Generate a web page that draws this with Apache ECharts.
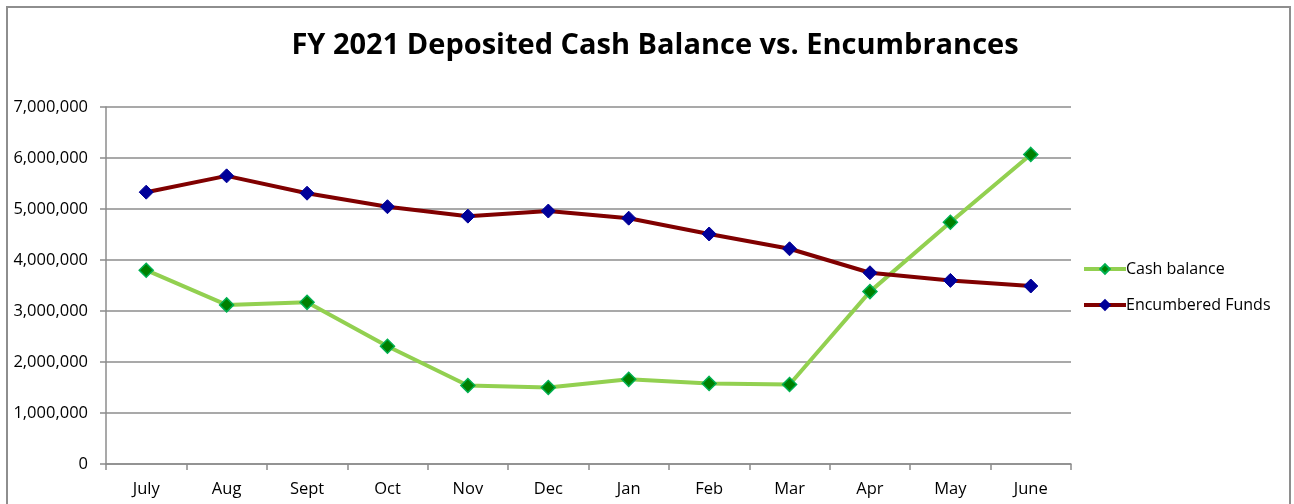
<!DOCTYPE html>
<html>
<head>
<meta charset="utf-8">
<script src="https://cdn.jsdelivr.net/npm/echarts@6/dist/echarts.min.js"></script>
<style>
  html, body { margin: 0; padding: 0; background: #fff; overflow: hidden; }
  #frame { position: absolute; left: 6px; top: 6px; width: 1285px; height: 520px;
           border: 2px solid #8e8e8e; box-sizing: border-box; }
  #chart { position: absolute; left: 0; top: 0; width: 1294px; height: 504px; }
</style>
</head>
<body>
<div id="frame"></div>
<div id="chart"></div>
<script>
// 月份（财年从七月开始）
var months = ['July', 'Aug', 'Sept', 'Oct', 'Nov', 'Dec', 'Jan', 'Feb', 'Mar', 'Apr', 'May', 'June'];
// 现金余额
var cashBalance = [3800000, 3120000, 3170000, 2310000, 1540000, 1500000, 1660000, 1580000, 1560000, 3380000, 4740000, 6070000];
// 已承诺资金
var encumberedFunds = [5330000, 5650000, 5310000, 5045000, 4860000, 4960000, 4820000, 4510000, 4220000, 3750000, 3600000, 3490000];
// y轴刻度
var yTicks = [0, 1000000, 2000000, 3000000, 4000000, 5000000, 6000000, 7000000];

var font = '"Open Sans", "Noto Sans", sans-serif';

var myChart = echarts.init(document.getElementById('chart'));
var option = {
  animation: false,
  title: {
    text: 'FY 2021 Deposited Cash Balance vs. Encumbrances',
    left: 650,
    textAlign: 'center',
    top: 26,
    textStyle: { fontFamily: font, fontSize: 29, fontWeight: 'bold', color: '#000' }
  },
  legend: {
    orient: 'vertical',
    left: 1077,
    top: 253,
    itemWidth: 42,
    itemHeight: 12,
    itemGap: 14,
    lineStyle: { width: 4 },
    textStyle: { fontFamily: font, fontSize: 16, color: '#000', padding: [0, 0, 0, -5], lineHeight: 22 },
    data: ['Cash balance', 'Encumbered Funds']
  },
  grid: { left: 106, right: 223, top: 107, bottom: 40, containLabel: false },
  xAxis: {
    type: 'category',
    data: months,
    boundaryGap: true,
    axisLine: { lineStyle: { color: '#8c8c8c', width: 1.5 } },
    axisTick: { show: true, length: 6, alignWithLabel: false, lineStyle: { color: '#8c8c8c', width: 1.5 } },
    axisLabel: { fontFamily: font, fontSize: 16.5, color: '#000', margin: 17 }
  },
  yAxis: {
    type: 'value',
    min: yTicks[0],
    max: yTicks[yTicks.length - 1],
    interval: 1000000,
    axisLine: { show: true, lineStyle: { color: '#8c8c8c', width: 1.5 } },
    axisTick: { show: true, length: 6, lineStyle: { color: '#8c8c8c', width: 1.5 } },
    splitLine: { lineStyle: { color: '#8c8c8c', width: 1.5 } },
    axisLabel: {
      fontFamily: font, fontSize: 16.5, color: '#000', margin: 18,
      formatter: function (v) { return v.toLocaleString('en-US'); }
    }
  },
  series: [
    {
      name: 'Cash balance',
      type: 'line',
      data: cashBalance,
      symbol: 'diamond',
      symbolSize: 14,
      lineStyle: { color: '#92D050', width: 4 },
      itemStyle: { color: '#008000', borderColor: '#00B050', borderWidth: 1.5 }
    },
    {
      name: 'Encumbered Funds',
      type: 'line',
      data: encumberedFunds,
      symbol: 'diamond',
      symbolSize: 14,
      lineStyle: { color: '#800000', width: 4 },
      itemStyle: { color: '#000099', borderColor: '#000099', borderWidth: 1 }
    }
  ]
};
myChart.setOption(option);
</script>
</body>
</html>
